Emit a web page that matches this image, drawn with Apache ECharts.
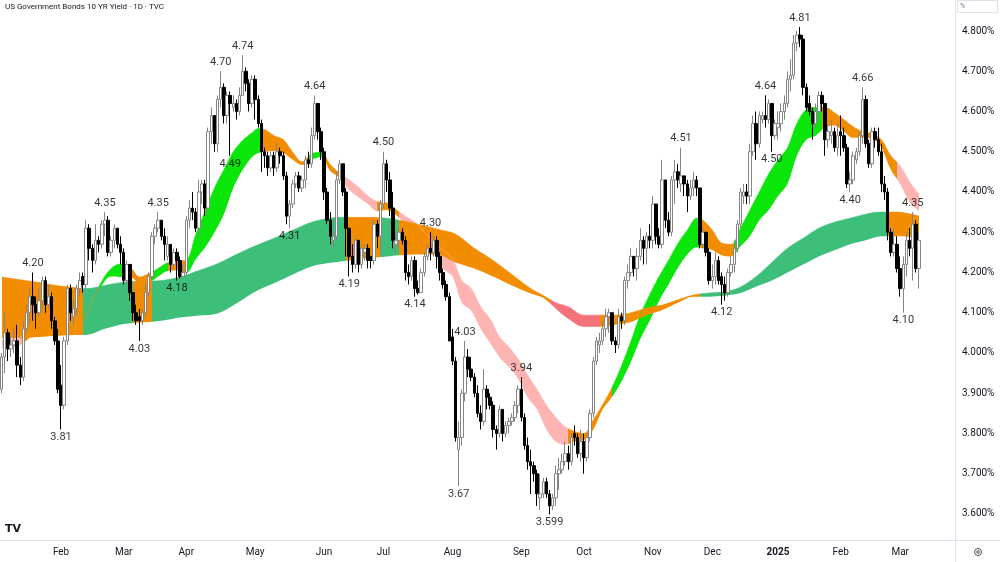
<!DOCTYPE html>
<html>
<head>
<meta charset="utf-8">
<title>US Government Bonds 10 YR Yield</title>
<script src="https://cdn.jsdelivr.net/npm/echarts@6/dist/echarts.min.js"></script>
<style>
  html, body { margin: 0; padding: 0; background: #ffffff; }
  #chart { width: 1000px; height: 562px; }
</style>
</head>
<body>
<div id="chart"></div>
<script>
// daily candles, [open, close, low, high]
var jan24 = [
  [3.91, 3.99, 3.90, 4.00], [3.99, 4.05, 3.95, 4.10], [4.05, 4.01, 3.98, 4.06], [4.01, 4.02, 3.99, 4.04],
  [4.02, 4.03, 4.00, 4.06], [4.03, 3.97, 3.94, 4.07], [3.97, 3.94, 3.92, 3.99], [3.94, 4.06, 3.93, 4.08],
  [4.06, 4.10, 4.05, 4.12], [4.10, 4.14, 4.07, 4.16], [4.14, 4.12, 4.08, 4.20], [4.12, 4.10, 4.06, 4.14],
  [4.10, 4.13, 4.09, 4.16], [4.13, 4.18, 4.11, 4.19], [4.18, 4.12, 4.10, 4.19], [4.12, 4.14, 4.11, 4.17],
  [4.14, 4.08, 4.06, 4.15], [4.08, 4.03, 4.02, 4.09], [4.03, 3.91, 3.90, 4.06]
];
var feb24 = [
  [3.92, 3.87, 3.81, 3.97], [3.87, 4.03, 3.86, 4.04], [4.03, 4.16, 4.02, 4.17], [4.16, 4.10, 4.08, 4.17],
  [4.09, 4.11, 4.07, 4.13], [4.11, 4.16, 4.09, 4.17], [4.16, 4.18, 4.14, 4.20], [4.19, 4.17, 4.15, 4.20],
  [4.17, 4.31, 4.16, 4.33], [4.31, 4.26, 4.23, 4.32], [4.26, 4.23, 4.20, 4.27], [4.23, 4.28, 4.22, 4.32],
  [4.28, 4.27, 4.25, 4.29], [4.27, 4.32, 4.26, 4.33], [4.32, 4.33, 4.29, 4.35], [4.33, 4.25, 4.24, 4.34],
  [4.25, 4.28, 4.24, 4.29], [4.28, 4.31, 4.26, 4.32], [4.31, 4.27, 4.26, 4.31], [4.27, 4.25, 4.22, 4.29]
];
var mar24 = [
  [4.25, 4.18, 4.17, 4.26], [4.18, 4.22, 4.17, 4.23], [4.22, 4.15, 4.13, 4.22], [4.15, 4.10, 4.08, 4.15],
  [4.10, 4.08, 4.07, 4.12], [4.09, 4.08, 4.03, 4.11], [4.08, 4.10, 4.07, 4.11], [4.10, 4.15, 4.09, 4.17],
  [4.15, 4.19, 4.14, 4.20], [4.19, 4.29, 4.18, 4.30], [4.29, 4.31, 4.27, 4.32], [4.31, 4.33, 4.30, 4.35],
  [4.33, 4.29, 4.28, 4.33], [4.29, 4.27, 4.23, 4.31], [4.24, 4.27, 4.23, 4.29], [4.27, 4.22, 4.20, 4.27],
  [4.22, 4.25, 4.21, 4.26], [4.25, 4.23, 4.18, 4.26], [4.23, 4.19, 4.185, 4.24], [4.19, 4.20, 4.19, 4.22]
];
var apr24 = [
  [4.20, 4.33, 4.19, 4.34], [4.33, 4.36, 4.31, 4.38], [4.36, 4.35, 4.33, 4.40], [4.35, 4.31, 4.30, 4.36],
  [4.31, 4.40, 4.29, 4.43], [4.40, 4.42, 4.37, 4.43], [4.42, 4.36, 4.34, 4.43], [4.36, 4.55, 4.35, 4.56],
  [4.55, 4.59, 4.52, 4.61], [4.59, 4.52, 4.50, 4.59], [4.52, 4.63, 4.50, 4.64], [4.63, 4.66, 4.61, 4.70],
  [4.66, 4.59, 4.57, 4.67], [4.59, 4.64, 4.57, 4.65], [4.64, 4.62, 4.49, 4.65], [4.61, 4.62, 4.60, 4.64],
  [4.62, 4.60, 4.58, 4.63], [4.60, 4.64, 4.59, 4.66], [4.64, 4.70, 4.64, 4.74], [4.70, 4.67, 4.65, 4.71],
  [4.67, 4.62, 4.60, 4.68], [4.62, 4.68, 4.61, 4.69]
];
var may24 = [
  [4.68, 4.63, 4.58, 4.69], [4.63, 4.57, 4.56, 4.64], [4.57, 4.50, 4.45, 4.58], [4.50, 4.49, 4.46, 4.51],
  [4.49, 4.46, 4.44, 4.50], [4.46, 4.49, 4.45, 4.50], [4.49, 4.46, 4.44, 4.50], [4.46, 4.50, 4.45, 4.52],
  [4.50, 4.49, 4.47, 4.51], [4.49, 4.44, 4.43, 4.50], [4.44, 4.34, 4.32, 4.45], [4.34, 4.37, 4.31, 4.38],
  [4.37, 4.42, 4.36, 4.43], [4.42, 4.44, 4.41, 4.45], [4.44, 4.41, 4.40, 4.45], [4.41, 4.43, 4.40, 4.44],
  [4.43, 4.48, 4.41, 4.49], [4.48, 4.47, 4.46, 4.50], [4.47, 4.54, 4.46, 4.56], [4.54, 4.62, 4.53, 4.64],
  [4.62, 4.55, 4.53, 4.62], [4.55, 4.50, 4.48, 4.56]
];
var jun24 = [
  [4.50, 4.40, 4.38, 4.51], [4.40, 4.33, 4.32, 4.41], [4.33, 4.29, 4.27, 4.35], [4.28, 4.29, 4.26, 4.31],
  [4.29, 4.43, 4.28, 4.45], [4.43, 4.47, 4.42, 4.48], [4.47, 4.40, 4.39, 4.47], [4.40, 4.31, 4.24, 4.41],
  [4.31, 4.24, 4.19, 4.31], [4.24, 4.22, 4.20, 4.27], [4.22, 4.28, 4.21, 4.29], [4.28, 4.22, 4.20, 4.28],
  [4.22, 4.26, 4.21, 4.27], [4.25, 4.26, 4.23, 4.27], [4.26, 4.23, 4.21, 4.27], [4.24, 4.23, 4.21, 4.24],
  [4.23, 4.32, 4.22, 4.33], [4.32, 4.29, 4.26, 4.33], [4.29, 4.37, 4.24, 4.38]
];
var jul24 = [
  [4.37, 4.47, 4.36, 4.50], [4.47, 4.43, 4.40, 4.48], [4.43, 4.36, 4.34, 4.45], [4.36, 4.28, 4.26, 4.40],
  [4.27, 4.28, 4.25, 4.30], [4.28, 4.30, 4.26, 4.31], [4.30, 4.28, 4.27, 4.31], [4.28, 4.20, 4.18, 4.29],
  [4.20, 4.19, 4.17, 4.22], [4.19, 4.23, 4.18, 4.24], [4.23, 4.16, 4.14, 4.24], [4.16, 4.15, 4.145, 4.18],
  [4.15, 4.20, 4.15, 4.21], [4.20, 4.24, 4.19, 4.25], [4.24, 4.26, 4.23, 4.27], [4.26, 4.25, 4.23, 4.30],
  [4.25, 4.28, 4.24, 4.29], [4.28, 4.24, 4.21, 4.29], [4.24, 4.20, 4.18, 4.25], [4.20, 4.17, 4.16, 4.21],
  [4.17, 4.14, 4.13, 4.18], [4.14, 4.03, 4.03, 4.15]
];
var aug24 = [
  [4.04, 3.98, 3.97, 4.06], [3.98, 3.79, 3.78, 3.99], [3.76, 3.79, 3.67, 3.83], [3.79, 3.90, 3.77, 3.91],
  [3.90, 3.99, 3.88, 4.03], [3.99, 3.96, 3.94, 4.01], [3.96, 3.94, 3.93, 3.99], [3.94, 3.90, 3.89, 3.95],
  [3.90, 3.85, 3.84, 3.92], [3.85, 3.83, 3.81, 3.87], [3.83, 3.91, 3.82, 3.96], [3.91, 3.89, 3.86, 3.92],
  [3.89, 3.87, 3.86, 3.90], [3.87, 3.81, 3.79, 3.88], [3.81, 3.80, 3.76, 3.82], [3.80, 3.86, 3.79, 3.87],
  [3.86, 3.80, 3.78, 3.86], [3.80, 3.82, 3.79, 3.83], [3.82, 3.83, 3.80, 3.84], [3.83, 3.84, 3.82, 3.85],
  [3.84, 3.87, 3.83, 3.88], [3.87, 3.91, 3.85, 3.92]
];
var sep24 = [
  [3.91, 3.84, 3.83, 3.94], [3.84, 3.77, 3.76, 3.85], [3.77, 3.73, 3.71, 3.79], [3.73, 3.72, 3.65, 3.76],
  [3.72, 3.70, 3.68, 3.73], [3.70, 3.65, 3.62, 3.71], [3.64, 3.65, 3.61, 3.70], [3.65, 3.68, 3.64, 3.69],
  [3.68, 3.65, 3.64, 3.69], [3.65, 3.62, 3.599, 3.66], [3.62, 3.64, 3.61, 3.65], [3.64, 3.70, 3.62, 3.72],
  [3.70, 3.71, 3.66, 3.74], [3.71, 3.73, 3.70, 3.75], [3.73, 3.75, 3.72, 3.78], [3.75, 3.73, 3.71, 3.77],
  [3.73, 3.79, 3.72, 3.80], [3.80, 3.79, 3.77, 3.82], [3.79, 3.75, 3.74, 3.80], [3.75, 3.78, 3.73, 3.81]
];
var oct24 = [
  [3.78, 3.74, 3.70, 3.80], [3.74, 3.79, 3.73, 3.80], [3.79, 3.85, 3.78, 3.86], [3.85, 3.98, 3.84, 3.99],
  [3.98, 4.03, 3.97, 4.04], [4.02, 4.03, 4.00, 4.05], [4.03, 4.06, 4.02, 4.08], [4.06, 4.09, 4.04, 4.11],
  [4.09, 4.10, 4.05, 4.11], [4.10, 4.03, 4.02, 4.10], [4.03, 4.02, 4.00, 4.04], [4.02, 4.09, 4.01, 4.11],
  [4.09, 4.08, 4.06, 4.10], [4.08, 4.18, 4.07, 4.19], [4.18, 4.20, 4.16, 4.22], [4.20, 4.24, 4.19, 4.26],
  [4.24, 4.21, 4.19, 4.24], [4.21, 4.24, 4.18, 4.26], [4.24, 4.28, 4.23, 4.31], [4.28, 4.26, 4.22, 4.29],
  [4.26, 4.29, 4.22, 4.30], [4.29, 4.28, 4.26, 4.32]
];
var nov24 = [
  [4.28, 4.37, 4.26, 4.39], [4.37, 4.29, 4.27, 4.37], [4.29, 4.27, 4.26, 4.31], [4.27, 4.43, 4.26, 4.48],
  [4.43, 4.33, 4.31, 4.43], [4.33, 4.30, 4.29, 4.35], [4.30, 4.43, 4.29, 4.44], [4.43, 4.45, 4.37, 4.48],
  [4.45, 4.43, 4.41, 4.47], [4.42, 4.44, 4.40, 4.51], [4.44, 4.42, 4.39, 4.44], [4.42, 4.39, 4.35, 4.43],
  [4.39, 4.41, 4.38, 4.43], [4.41, 4.43, 4.39, 4.45], [4.43, 4.41, 4.39, 4.44], [4.41, 4.27, 4.26, 4.41],
  [4.27, 4.30, 4.26, 4.31], [4.30, 4.25, 4.24, 4.30], [4.25, 4.18, 4.17, 4.26]
];
var dec24 = [
  [4.18, 4.19, 4.16, 4.22], [4.19, 4.23, 4.17, 4.25], [4.23, 4.18, 4.17, 4.24], [4.19, 4.17, 4.12, 4.20],
  [4.17, 4.15, 4.13, 4.19], [4.15, 4.20, 4.14, 4.21], [4.20, 4.22, 4.19, 4.24], [4.22, 4.26, 4.20, 4.28],
  [4.26, 4.32, 4.25, 4.33], [4.32, 4.40, 4.31, 4.41], [4.39, 4.40, 4.37, 4.42], [4.40, 4.39, 4.37, 4.42],
  [4.39, 4.50, 4.37, 4.52], [4.50, 4.57, 4.49, 4.59], [4.57, 4.52, 4.48, 4.60], [4.52, 4.59, 4.51, 4.60],
  [4.58, 4.59, 4.57, 4.60], [4.59, 4.58, 4.56, 4.64], [4.58, 4.62, 4.57, 4.63], [4.62, 4.54, 4.50, 4.62],
  [4.54, 4.57, 4.53, 4.58]
];
var jan25 = [
  [4.56, 4.57, 4.53, 4.60], [4.57, 4.60, 4.55, 4.62], [4.60, 4.62, 4.58, 4.64], [4.62, 4.68, 4.61, 4.70],
  [4.68, 4.69, 4.65, 4.73], [4.69, 4.77, 4.68, 4.79], [4.77, 4.79, 4.75, 4.80], [4.79, 4.78, 4.76, 4.81],
  [4.78, 4.66, 4.64, 4.79], [4.66, 4.61, 4.60, 4.67], [4.62, 4.60, 4.59, 4.64], [4.60, 4.57, 4.53, 4.61],
  [4.57, 4.60, 4.56, 4.62], [4.60, 4.64, 4.58, 4.65], [4.64, 4.62, 4.60, 4.65], [4.62, 4.53, 4.49, 4.62],
  [4.53, 4.55, 4.51, 4.57], [4.54, 4.55, 4.52, 4.58], [4.55, 4.51, 4.50, 4.56], [4.51, 4.54, 4.49, 4.57]
];
var feb25 = [
  [4.55, 4.54, 4.49, 4.59], [4.54, 4.51, 4.50, 4.56], [4.51, 4.42, 4.41, 4.52], [4.42, 4.43, 4.40, 4.45],
  [4.43, 4.49, 4.42, 4.50], [4.48, 4.50, 4.47, 4.51], [4.50, 4.54, 4.49, 4.55], [4.54, 4.63, 4.52, 4.66],
  [4.63, 4.52, 4.51, 4.64], [4.52, 4.47, 4.46, 4.53], [4.47, 4.55, 4.46, 4.56], [4.55, 4.53, 4.51, 4.56],
  [4.53, 4.50, 4.49, 4.56], [4.50, 4.42, 4.40, 4.52], [4.42, 4.40, 4.38, 4.44], [4.40, 4.30, 4.28, 4.41],
  [4.30, 4.25, 4.24, 4.31], [4.25, 4.27, 4.24, 4.31], [4.27, 4.21, 4.20, 4.29]
];
var mar25 = [
  [4.21, 4.16, 4.14, 4.24], [4.16, 4.22, 4.10, 4.24], [4.22, 4.28, 4.19, 4.30], [4.28, 4.26, 4.24, 4.31],
  [4.26, 4.32, 4.18, 4.35], [4.32, 4.21, 4.20, 4.33], [4.21, 4.28, 4.16, 4.30]
];

// ribbon edges: [date, lower, upper]
var fastBand = [
  ['2024-01-04', 4.012, 4.032], ['2024-01-09', 4.015, 4.035], ['2024-01-12', 4.020, 4.040],
  ['2024-01-19', 4.045, 4.065], ['2024-01-25', 4.070, 4.085], ['2024-01-31', 4.085, 4.095],
  ['2024-02-06', 4.080, 4.090], ['2024-02-12', 4.077, 4.085], ['2024-02-15', 4.120, 4.130],
  ['2024-02-21', 4.168, 4.178], ['2024-02-26', 4.190, 4.210], ['2024-02-29', 4.189, 4.221],
  ['2024-03-05', 4.189, 4.214], ['2024-03-08', 4.176, 4.189], ['2024-03-13', 4.176, 4.197],
  ['2024-03-18', 4.190, 4.210], ['2024-03-21', 4.204, 4.224], ['2024-03-26', 4.205, 4.228],
  ['2024-04-01', 4.199, 4.231], ['2024-04-04', 4.233, 4.294], ['2024-04-09', 4.262, 4.352],
  ['2024-04-12', 4.300, 4.410], ['2024-04-17', 4.345, 4.455], ['2024-04-22', 4.410, 4.500],
  ['2024-04-25', 4.455, 4.528], ['2024-04-30', 4.487, 4.547], ['2024-05-02', 4.497, 4.558],
  ['2024-05-06', 4.500, 4.555], ['2024-05-09', 4.502, 4.540], ['2024-05-14', 4.497, 4.530],
  ['2024-05-17', 4.480, 4.499], ['2024-05-22', 4.467, 4.475], ['2024-05-28', 4.480, 4.495],
  ['2024-05-31', 4.487, 4.499], ['2024-06-05', 4.452, 4.468], ['2024-06-10', 4.435, 4.447],
  ['2024-06-13', 4.405, 4.430], ['2024-06-18', 4.387, 4.412], ['2024-06-24', 4.370, 4.390],
  ['2024-06-27', 4.352, 4.376], ['2024-07-02', 4.355, 4.373], ['2024-07-08', 4.343, 4.356],
  ['2024-07-11', 4.320, 4.340], ['2024-07-16', 4.300, 4.325], ['2024-07-19', 4.275, 4.300],
  ['2024-07-24', 4.250, 4.275], ['2024-07-29', 4.210, 4.255], ['2024-08-01', 4.190, 4.235],
  ['2024-08-06', 4.125, 4.180], ['2024-08-09', 4.105, 4.160], ['2024-08-14', 4.060, 4.115],
  ['2024-08-19', 4.025, 4.085], ['2024-08-22', 3.990, 4.040], ['2024-08-27', 3.965, 4.015],
  ['2024-08-30', 3.935, 3.985], ['2024-09-05', 3.890, 3.945], ['2024-09-10', 3.860, 3.910],
  ['2024-09-13', 3.810, 3.870], ['2024-09-18', 3.780, 3.840], ['2024-09-23', 3.772, 3.817],
  ['2024-09-26', 3.780, 3.805], ['2024-10-01', 3.784, 3.800], ['2024-10-04', 3.810, 3.834],
  ['2024-10-09', 3.860, 3.872], ['2024-10-15', 3.891, 3.915], ['2024-10-18', 3.930, 3.968],
  ['2024-10-23', 3.978, 4.029], ['2024-10-28', 4.035, 4.095], ['2024-10-31', 4.080, 4.145],
  ['2024-11-05', 4.130, 4.190], ['2024-11-08', 4.170, 4.230], ['2024-11-14', 4.212, 4.272],
  ['2024-11-19', 4.245, 4.305], ['2024-11-22', 4.263, 4.335], ['2024-11-26', 4.260, 4.330],
  ['2024-12-02', 4.256, 4.305], ['2024-12-05', 4.243, 4.273], ['2024-12-10', 4.240, 4.270],
  ['2024-12-13', 4.265, 4.310], ['2024-12-18', 4.290, 4.355], ['2024-12-23', 4.330, 4.400],
  ['2024-12-27', 4.355, 4.445], ['2025-01-02', 4.390, 4.480], ['2025-01-07', 4.420, 4.510],
  ['2025-01-13', 4.490, 4.570], ['2025-01-16', 4.530, 4.605], ['2025-01-22', 4.540, 4.610],
  ['2025-01-27', 4.560, 4.610], ['2025-01-30', 4.565, 4.597], ['2025-02-04', 4.550, 4.580],
  ['2025-02-07', 4.535, 4.562], ['2025-02-12', 4.535, 4.550], ['2025-02-18', 4.533, 4.545],
  ['2025-02-21', 4.510, 4.530], ['2025-02-26', 4.455, 4.490], ['2025-03-03', 4.420, 4.465],
  ['2025-03-06', 4.375, 4.425], ['2025-03-11', 4.352, 4.395]
];
var slowBand = [
  ['2024-01-04', 4.037, 4.189], ['2024-01-12', 4.037, 4.182], ['2024-01-23', 4.040, 4.175],
  ['2024-01-31', 4.043, 4.167], ['2024-02-08', 4.045, 4.162], ['2024-02-13', 4.045, 4.160],
  ['2024-02-22', 4.060, 4.168], ['2024-03-01', 4.072, 4.176], ['2024-03-11', 4.076, 4.178],
  ['2024-03-19', 4.080, 4.180], ['2024-03-27', 4.088, 4.189], ['2024-04-05', 4.093, 4.205],
  ['2024-04-15', 4.098, 4.222], ['2024-04-23', 4.123, 4.245], ['2024-05-01', 4.152, 4.266],
  ['2024-05-09', 4.173, 4.285], ['2024-05-17', 4.195, 4.305], ['2024-05-28', 4.215, 4.325],
  ['2024-06-05', 4.224, 4.335], ['2024-06-13', 4.230, 4.337], ['2024-06-24', 4.236, 4.337],
  ['2024-07-02', 4.240, 4.335], ['2024-07-09', 4.243, 4.330], ['2024-07-17', 4.245, 4.320],
  ['2024-07-25', 4.245, 4.308], ['2024-08-02', 4.225, 4.295], ['2024-08-12', 4.210, 4.260],
  ['2024-08-20', 4.190, 4.230], ['2024-08-28', 4.168, 4.195], ['2024-09-06', 4.148, 4.160],
  ['2024-09-12', 4.137, 4.143], ['2024-09-18', 4.110, 4.125], ['2024-09-24', 4.085, 4.115],
  ['2024-10-01', 4.065, 4.094], ['2024-10-08', 4.065, 4.094], ['2024-10-16', 4.070, 4.094],
  ['2024-10-23', 4.077, 4.100], ['2024-10-30', 4.094, 4.112], ['2024-11-06', 4.107, 4.119],
  ['2024-11-14', 4.125, 4.132], ['2024-11-21', 4.140, 4.144], ['2024-11-29', 4.140, 4.149],
  ['2024-12-06', 4.143, 4.152], ['2024-12-13', 4.149, 4.164], ['2024-12-20', 4.165, 4.190],
  ['2024-12-30', 4.180, 4.225], ['2025-01-07', 4.200, 4.260], ['2025-01-15', 4.220, 4.285],
  ['2025-01-23', 4.240, 4.310], ['2025-01-30', 4.255, 4.325], ['2025-02-06', 4.270, 4.335],
  ['2025-02-13', 4.280, 4.345], ['2025-02-21', 4.290, 4.350], ['2025-02-28', 4.290, 4.350],
  ['2025-03-11', 4.286, 4.340]
];

var TEAL = '#3dbf7a', LIME = '#0ae60a', ORANGE = '#f28c00', PINK = '#ffb4b4', RED = '#f4737a';
// colour changes along each ribbon: [first day, colour]
var fastColors = [
  ['2024-01-04', PINK], ['2024-01-16', ORANGE], ['2024-02-20', LIME], ['2024-03-01', ORANGE],
  ['2024-03-14', LIME], ['2024-03-21', ORANGE], ['2024-04-01', LIME], ['2024-05-03', ORANGE],
  ['2024-05-24', LIME], ['2024-06-03', ORANGE], ['2024-06-11', PINK], ['2024-06-27', ORANGE],
  ['2024-07-09', PINK], ['2024-09-24', ORANGE], ['2024-10-15', LIME], ['2024-11-25', ORANGE],
  ['2024-12-11', LIME], ['2025-01-24', ORANGE], ['2025-02-28', PINK]
];
var slowColors = [
  ['2024-01-04', ORANGE], ['2024-02-12', TEAL], ['2024-03-06', ORANGE], ['2024-03-14', TEAL],
  ['2024-06-12', ORANGE], ['2024-06-28', TEAL], ['2024-07-09', ORANGE], ['2024-09-16', RED],
  ['2024-10-08', ORANGE], ['2024-11-25', TEAL], ['2025-02-25', ORANGE]
];

var pivotHighs = [
  ['2024-01-19', '4.20'], ['2024-02-22', '4.35'], ['2024-03-18', '4.35'], ['2024-04-16', '4.70'],
  ['2024-04-25', '4.74'], ['2024-05-29', '4.64'], ['2024-07-01', '4.50'], ['2024-07-23', '4.30'],
  ['2024-08-07', '4.03'], ['2024-09-03', '3.94'], ['2024-11-15', '4.51'], ['2024-12-26', '4.64'],
  ['2025-01-14', '4.81'], ['2025-02-12', '4.66'], ['2025-03-07', '4.35']
];
var pivotLows = [
  ['2024-02-01', '3.81'], ['2024-03-08', '4.03'], ['2024-03-26', '4.18'], ['2024-04-19', '4.49'],
  ['2024-05-16', '4.31'], ['2024-06-13', '4.19'], ['2024-07-16', '4.14'], ['2024-08-05', '3.67'],
  ['2024-09-16', '3.599'], ['2024-12-05', '4.12'], ['2024-12-30', '4.50'], ['2025-02-06', '4.40'],
  ['2025-03-04', '4.10']
];

var yTicks = [3.6, 3.7, 3.8, 3.9, 4.0, 4.1, 4.2, 4.3, 4.4, 4.5, 4.6, 4.7, 4.8];
var monthNames = ['Jan', 'Feb', 'Mar', 'Apr', 'May', 'Jun', 'Jul', 'Aug', 'Sep', 'Oct', 'Nov', 'Dec'];
var holidays = ['2024-01-15', '2024-02-19', '2024-03-29', '2024-05-27', '2024-06-19', '2024-07-04',
  '2024-09-02', '2024-10-14', '2024-11-11', '2024-11-28', '2024-12-25', '2025-01-01', '2025-01-09',
  '2025-01-20', '2025-02-17'];

var candles = [].concat(jan24, feb24, mar24, apr24, may24, jun24, jul24, aug24, sep24, oct24, nov24, dec24, jan25, feb25, mar25);

// trading days from the first candle, plus some empty days on the right
function tradingDays(start, count) {
  var out = [];
  var d = new Date(start + 'T00:00:00Z');
  while (out.length < count) {
    var s = d.toISOString().slice(0, 10);
    var wd = d.getUTCDay();
    if (wd !== 0 && wd !== 6 && holidays.indexOf(s) < 0) out.push(s);
    d.setUTCDate(d.getUTCDate() + 1);
  }
  return out;
}
var dates = tradingDays('2024-01-04', candles.length + 11);

// lower edge + width, stacked by category so the area fills between the two edges
function bandData(samples) {
  return {
    lo: samples.map(function (s) { return [s[0], s[1]]; }),
    width: samples.map(function (s) { return [s[0], +(s[2] - s[1]).toFixed(4)]; })
  };
}
function colorPieces(list) {
  return list.map(function (c, k) {
    return {
      gte: dates.indexOf(c[0]) - 0.5,
      lt: k + 1 < list.length ? dates.indexOf(list[k + 1][0]) - 0.5 : dates.length,
      color: c[1]
    };
  });
}
function pivotData(list) {
  return list.map(function (p) { return { value: [p[0], Number(p[1])], text: p[1] }; });
}

var fast = bandData(fastBand);
var slow = bandData(slowBand);

var chartDom = document.getElementById('chart');
var myChart = echarts.init(chartDom, null, { renderer: 'canvas' });
var FONT = 'Roboto';

var option = {
  animation: false,
  backgroundColor: '#ffffff',
  textStyle: { fontFamily: FONT },
  grid: { left: -3, width: 958, top: 0, height: 540 },
  xAxis: {
    type: 'category',
    data: dates,
    boundaryGap: true,
    axisLine: { show: true, lineStyle: { color: '#e0e3eb', width: 1 } },
    axisTick: { show: false },
    splitLine: { show: false },
    axisLabel: {
      color: '#131722',
      fontSize: 10,
      fontFamily: FONT,
      margin: 7,
      interval: function (index, value) {
        return index > 0 && value.slice(0, 7) !== dates[index - 1].slice(0, 7);
      },
      formatter: function (value) {
        var m = Number(value.slice(5, 7));
        if (m === 1) return '{y|' + value.slice(0, 4) + '}';
        return monthNames[m - 1];
      },
      rich: { y: { fontWeight: 'bold', fontSize: 10, color: '#131722', fontFamily: FONT } }
    }
  },
  yAxis: {
    type: 'value',
    position: 'right',
    min: 3.5354,
    max: 4.87702,
    axisLine: { show: false },
    axisTick: { show: false },
    splitLine: { show: false },
    axisLabel: {
      customValues: yTicks,
      color: '#131722',
      fontSize: 10,
      fontFamily: FONT,
      margin: 7,
      formatter: function (v) { return v.toFixed(3) + '%'; }
    }
  },
  visualMap: [
    { type: 'piecewise', show: false, seriesIndex: 1, dimension: 0, pieces: colorPieces(fastColors) },
    { type: 'piecewise', show: false, seriesIndex: 3, dimension: 0, pieces: colorPieces(slowColors) }
  ],
  series: [
    {
      name: 'fastLow', type: 'line', stack: 'fast', data: fast.lo, smooth: 0.35, z: 1,
      symbol: 'none', lineStyle: { opacity: 0, width: 0 }, silent: true
    },
    {
      name: 'fastBand', type: 'line', stack: 'fast', data: fast.width, smooth: 0.35, z: 1,
      symbol: 'none', lineStyle: { width: 0.6 }, areaStyle: { opacity: 1 }, silent: true
    },
    {
      name: 'slowLow', type: 'line', stack: 'slow', data: slow.lo, smooth: 0.35, z: 1,
      symbol: 'none', lineStyle: { opacity: 0, width: 0 }, silent: true
    },
    {
      name: 'slowBand', type: 'line', stack: 'slow', data: slow.width, smooth: 0.35, z: 1,
      symbol: 'none', lineStyle: { width: 0.6 }, areaStyle: { opacity: 1 }, silent: true
    },
    {
      name: 'US10Y', type: 'candlestick', data: candles, barWidth: 3, z: 5,
      itemStyle: {
        color: '#ffffff', borderColor: '#858585',
        color0: '#000000', borderColor0: '#000000', borderWidth: 1
      }
    },
    {
      name: 'highs', type: 'scatter', data: pivotData(pivotHighs), symbolSize: 1, z: 6,
      itemStyle: { color: 'rgba(0,0,0,0)' }, silent: true,
      label: {
        show: true, position: 'top', distance: 3, color: '#000000', fontSize: 11, fontFamily: FONT,
        formatter: function (p) { return p.data.text; }
      }
    },
    {
      name: 'lows', type: 'scatter', data: pivotData(pivotLows), symbolSize: 1, z: 6,
      itemStyle: { color: 'rgba(0,0,0,0)' }, silent: true,
      label: {
        show: true, position: 'bottom', distance: 2, color: '#000000', fontSize: 11, fontFamily: FONT,
        formatter: function (p) { return p.data.text; }
      }
    }
  ],
  graphic: [
    { type: 'text', left: 5, top: 3, style: { text: 'US Government Bonds 10 YR Yield \u00b7 1D \u00b7 TVC', fill: '#131722', font: '8px ' + FONT } },
    { type: 'line', shape: { x1: 955.5, y1: 0, x2: 955.5, y2: 562 }, style: { stroke: '#e0e3eb', lineWidth: 1 } },
    { type: 'line', shape: { x1: 955, y1: 540.5, x2: 1000, y2: 540.5 }, style: { stroke: '#e0e3eb', lineWidth: 1 } },
    { type: 'rect', shape: { x: 957.5, y: 0.5, width: 40, height: 12 }, style: { fill: '#ffffff', stroke: '#e0e3eb', lineWidth: 1 } },
    { type: 'text', left: 960, top: 3, style: { text: '%', fill: '#787b86', font: '7px ' + FONT } },
    { type: 'circle', shape: { cx: 978, cy: 552, r: 3.5 }, style: { fill: 'none', stroke: '#555555', lineWidth: 1 } },
    { type: 'circle', shape: { cx: 978, cy: 552, r: 1.3 }, style: { fill: 'none', stroke: '#555555', lineWidth: 1 } },
    { type: 'text', left: 5, top: 524, style: { text: 'TV', fill: '#131722', font: 'bold 11px "DejaVu Sans"' } }
  ]
};

option && myChart.setOption(option);
window.addEventListener('resize', function () {
  myChart.resize();
});
</script>
</body>
</html>
